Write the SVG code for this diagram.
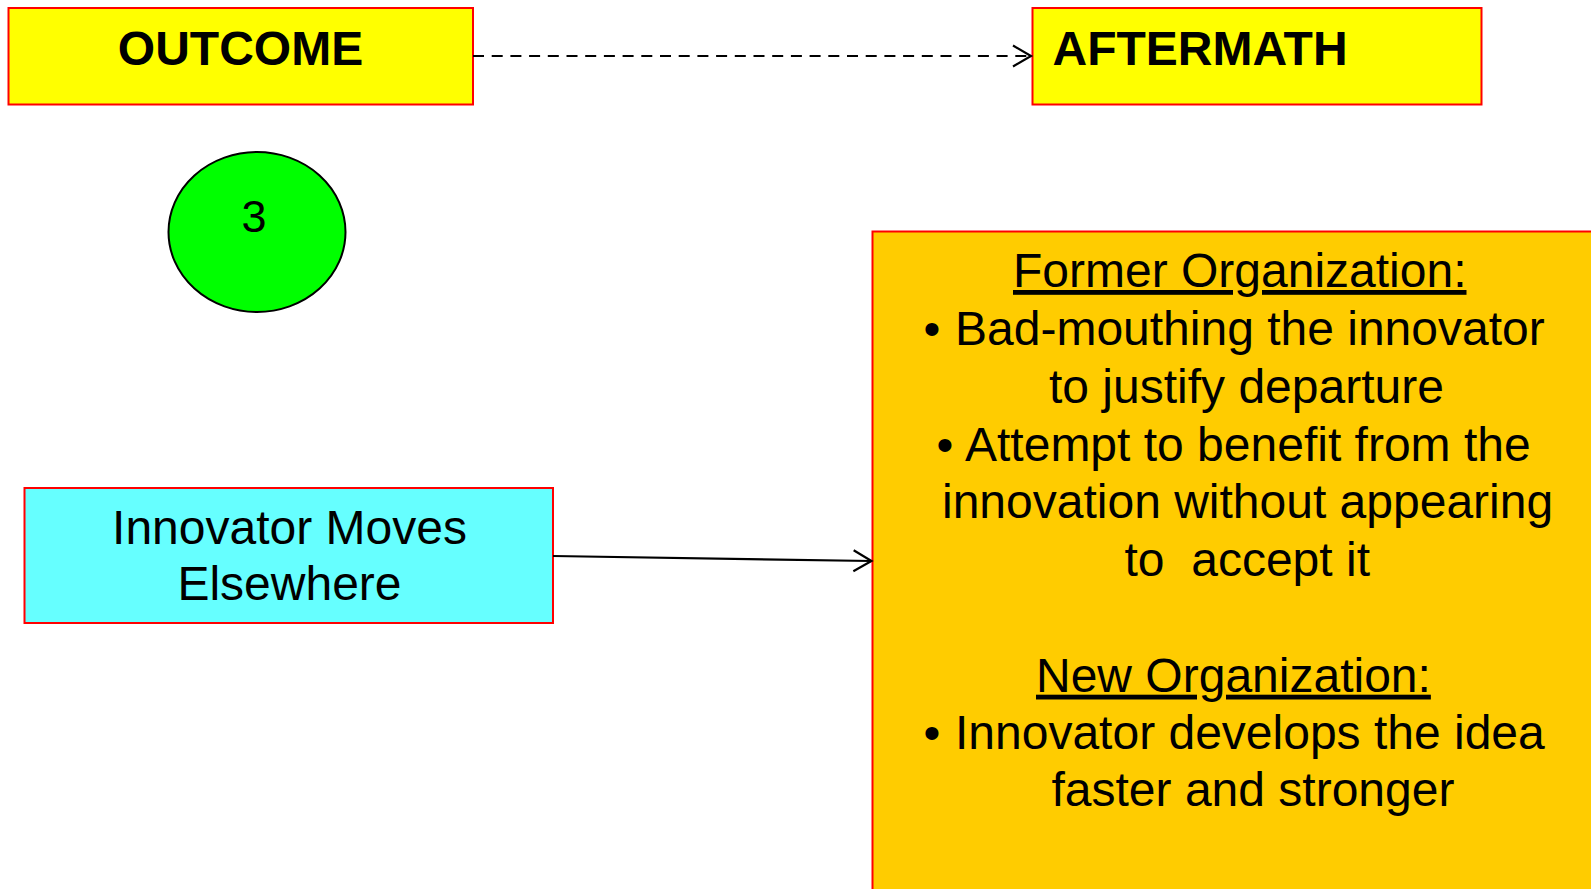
<svg xmlns="http://www.w3.org/2000/svg" width="1591" height="889" viewBox="0 0 1591 889">
  <style>
    .box { stroke: #FF0000; stroke-width: 2; }
    .title { font-family: "Liberation Sans", Arial, sans-serif; font-size: 48px; font-weight: bold; fill: #000; }
    .body { font-family: "Liberation Sans", Arial, sans-serif; font-size: 48px; fill: #000; }
    .conn { stroke: #000; stroke-width: 2.2; fill: none; }
  </style>
  <defs>
    <marker id="openArrow" markerUnits="userSpaceOnUse" markerWidth="24" markerHeight="26" refX="20" refY="12" orient="auto" viewBox="0 0 24 26">
      <path d="M2,1.5 L20,12 L2,22.5" fill="none" stroke="#000" stroke-width="2.2"/>
    </marker>
  </defs>

  <rect width="1591" height="889" fill="#FFFFFF"/>

  <g id="outcome">
    <rect class="box" x="8.5" y="8" width="464.5" height="96.5" fill="#FFFF00"/>
    <text class="title" x="240.5" y="64.5" text-anchor="middle">OUTCOME</text>
  </g>

  <g id="aftermath">
    <rect class="box" x="1032.5" y="8" width="449" height="96.5" fill="#FFFF00"/>
    <text class="title" x="1052.5" y="64.5">AFTERMATH</text>
  </g>

  <g id="step-number">
    <ellipse cx="257" cy="232" rx="88.5" ry="80" fill="#00FF00" stroke="#000" stroke-width="2"/>
    <text class="body" x="254" y="231.5" text-anchor="middle" style="font-size:45px">3</text>
  </g>

  <g id="innovator-moves">
    <rect class="box" x="24.5" y="488" width="528.5" height="135" fill="#66FFFF"/>
    <text class="body" x="289.5" y="544" text-anchor="middle">Innovator Moves</text>
    <text class="body" x="289.5" y="600" text-anchor="middle">Elsewhere</text>
  </g>

  <g id="consequences">
    <rect class="box" x="872.5" y="231.5" width="800" height="720" fill="#FFCC00"/>
    <text class="body" x="1013" y="287" text-decoration="underline">Former Organization:</text>
    <text class="body" x="923.5" y="345">•</text>
    <text class="body" x="955" y="345">Bad-mouthing the innovator</text>
    <text class="body" x="1049" y="402.5">to justify departure</text>
    <text class="body" x="936.5" y="460.5">•</text>
    <text class="body" x="965" y="460.5">Attempt to benefit from the</text>
    <text class="body" x="942" y="518.3">innovation without appearing</text>
    <text class="body" x="1124.5" y="575.5" xml:space="preserve">to  accept it</text>
    <text class="body" x="1036" y="691.7" text-decoration="underline">New Organization:</text>
    <text class="body" x="923.5" y="748.5">•</text>
    <text class="body" x="955" y="748.5">Innovator develops the idea</text>
    <text class="body" x="1051.5" y="806">faster and stronger</text>
  </g>

  <g id="connectors">
    <line class="conn" x1="473" y1="56" x2="1031" y2="56" stroke-dasharray="11 7.7" marker-end="url(#openArrow)"/>
    <line class="conn" x1="553" y1="556" x2="871.5" y2="561" marker-end="url(#openArrow)"/>
  </g>
</svg>
